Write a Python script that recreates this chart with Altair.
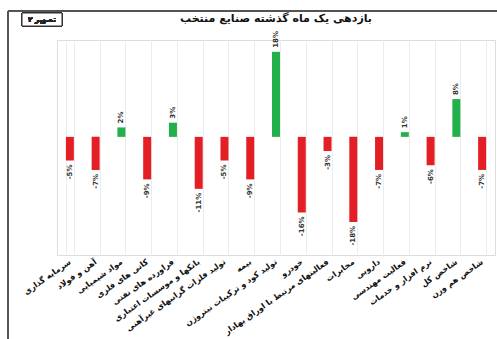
import altair as alt
import pandas as pd

# Selected industries and their one-month return (percent)
industries = [
    "سرمایه گذاری",
    "آهن و فولاد",
    "مواد شیمیایی",
    "کانی های فلزی",
    "فراورده های نفتی",
    "بانکها و موسسات اعتباری",
    "تولید فلزات گرانبهای غیرآهنی",
    "بیمه",
    "تولید کود و ترکیبات نیتروژن",
    "خودرو",
    "فعالیتهای مرتبط با اوراق بهادار",
    "مخابرات",
    "دارویی",
    "فعالیت مهندسی",
    "نرم افزار و خدمات",
    "شاخص کل",
    "شاخص هم وزن",
]
returns = [-5, -7, 2, -9, 3, -11, -5, -9, 18, -16, -3, -18, -7, 1, -6, 8, -7]

df = pd.DataFrame({"industry": industries, "ret": returns})
df["label"] = [f"{v}%" for v in returns]

RED = "#e31e24"
GREEN = "#22b04b"
FONT = "DejaVu Sans"

x_enc = alt.X(
    "industry:N",
    sort=industries,
    title=None,
    scale=alt.Scale(paddingInner=0.69, paddingOuter=0.345),
    axis=alt.Axis(
        labelAngle=-35,
        labelAlign="right",
        labelBaseline="middle",
        labelFont=FONT,
        labelFontSize=8,
        labelFontWeight="bold",
        labelColor="#111111",
        labelPadding=6,
        labelLimit=300,
        ticks=False,
        domain=False,
        grid=True,
        gridColor="#ececec",
        gridWidth=1,
        tickBand="extent",
    ),
)
y_scale = alt.Scale(domain=[-25, 20.5], nice=False, zero=True)
y_enc = alt.Y("ret:Q", scale=y_scale, axis=None)

base = alt.Chart(df)

bars = base.mark_bar().encode(
    x=x_enc,
    y=y_enc,
    y2=alt.datum(0),
    color=alt.condition(alt.datum.ret > 0, alt.value(GREEN), alt.value(RED)),
)

txt_style = dict(angle=270, font=FONT, fontSize=7, fontWeight="bold", color="#333333", baseline="middle")

pos_labels = base.transform_filter(alt.datum.ret > 0).mark_text(align="left", dx=4, **txt_style).encode(
    x=alt.X("industry:N", sort=industries),
    y=alt.Y("ret:Q", scale=y_scale),
    text="label:N",
)
neg_labels = base.transform_filter(alt.datum.ret < 0).mark_text(align="right", dx=-4, **txt_style).encode(
    x=alt.X("industry:N", sort=industries),
    y=alt.Y("ret:Q", scale=y_scale),
    text="label:N",
)

# Outer frame (top and left edges) and the small caption box
frame_top = base.mark_rule(color="#555555", strokeWidth=1.5).encode(
    x=alt.value(-49), x2=alt.value(460), y=alt.value(-29)
)
frame_left = base.mark_rule(color="#555555", strokeWidth=1.5).encode(
    x=alt.value(-49), y=alt.value(-29), y2=alt.value(320)
)
box = base.mark_rect(fill="white", stroke="#333333", strokeWidth=1).encode(
    x=alt.value(-35), x2=alt.value(5), y=alt.value(-27), y2=alt.value(-14)
)
box_text = base.mark_text(font=FONT, fontSize=7, fontWeight="bold", color="#222222").encode(
    x=alt.value(-15), y=alt.value(-20.5), text=alt.value("تصویر ۲")
)

chart = (
    alt.layer(bars, pos_labels, neg_labels, frame_top, frame_left, box, box_text)
    .properties(
        width=438,
        height=215,
        title=alt.TitleParams(
            "بازدهی یک ماه گذشته صنایع منتخب",
            font=FONT,
            fontSize=11,
            fontWeight="bold",
            color="#111111",
            anchor="middle",
            offset=-14,
        ),
        padding={"left": 57, "top": 40, "right": 2, "bottom": 84},
        autosize=alt.AutoSizeParams(type="none"),
    )
    .configure_view(stroke=None)
    .configure(background="white")
)

chart.save("out.html", embed_options={"renderer": "svg", "actions": False})
